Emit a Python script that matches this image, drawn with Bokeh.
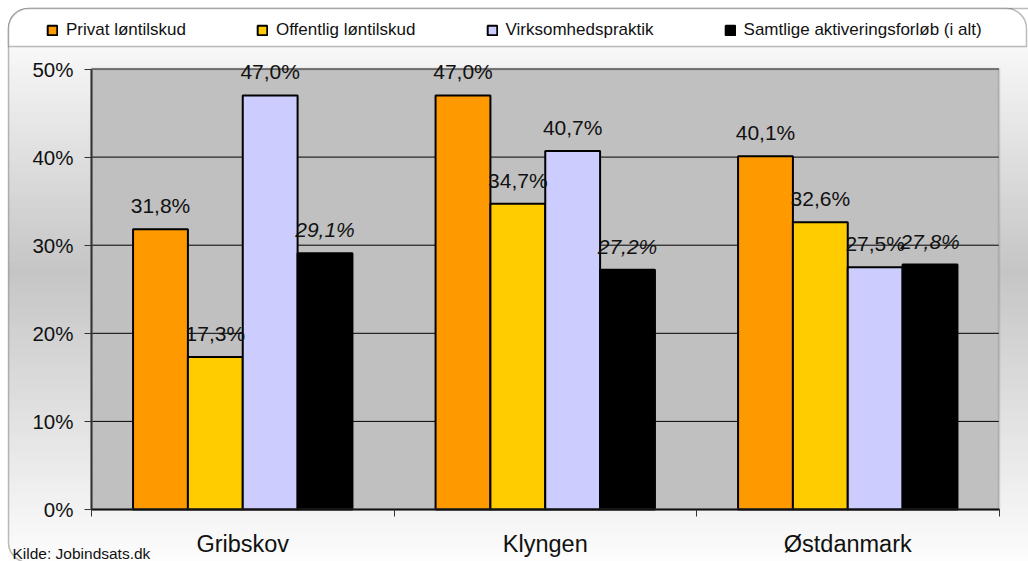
from bokeh.plotting import figure
from bokeh.models import (ColumnDataSource, Range1d, FixedTicker, PrintfTickFormatter,
                          LabelSet, Label, Legend, LegendItem, BoxAnnotation)
from bokeh.core.properties import value
from bokeh.transform import dodge
from bokeh.embed import file_html
from bokeh.resources import INLINE

# ---- data ----
categories = ["Gribskov", "Klyngen", "Østdanmark"]
series = ["Privat løntilskud", "Offentlig løntilskud", "Virksomhedspraktik",
          "Samtlige aktiveringsforløb (i alt)"]
privat = [31.8, 47.0, 40.1]
offentlig = [17.3, 34.7, 32.6]
virksomhed = [47.0, 40.7, 27.5]
samtlige = [29.1, 27.2, 27.8]
y_ticks = [0, 10, 20, 30, 40, 50]
source_note = "Kilde: Jobindsats.dk"

colors = ["#FF9900", "#FFCC00", "#CCCCFF", "#000000"]
keys = ["privat", "offentlig", "virksomhed", "samtlige"]
values = [privat, offentlig, virksomhed, samtlige]

SANS = "Liberation Sans"

def fmt(v):
    return f"{v:.1f}".replace(".", ",") + "%"

n = len(categories)
ymax = y_ticks[-1]

# ---- layout (canvas pixels) ----
W, H = 1028, 561
PX0, PX1 = 91.0, 998.5      # plot area left / right
PY0, PY1 = 509.0, 68.5      # plot area bottom (0) / top (ymax)

def dx(px):
    return (px - PX0) / (PX1 - PX0) * n

def dy(py):
    return (PY0 - py) / (PY0 - PY1) * ymax

p = figure(width=W, height=H, output_backend="svg", toolbar_location=None,
           x_range=Range1d(dx(0), dx(W)), y_range=Range1d(dy(H), dy(0)),
           min_border=0, min_border_left=0, min_border_right=0,
           min_border_top=0, min_border_bottom=0)
p.border_fill_color = "#ffffff"
p.background_fill_color = "#ffffff"
p.outline_line_color = None

# ---- background: chart box with vertical gradient ----
stops = [(46, 248), (270, 197), (566, 254)]
step = 6
yy = 46
while yy < 566:
    y2 = min(yy + step, 566)
    mid = (yy + y2) / 2
    for (a, ca), (b, cb) in zip(stops[:-1], stops[1:]):
        if a <= mid <= b:
            c = int(round(ca + (cb - ca) * (mid - a) / (b - a)))
    col = "#%02x%02x%02x" % (c, c, c)
    p.add_layout(BoxAnnotation(left=dx(8), right=dx(1100), top=dy(yy), bottom=dy(y2 + 0.6),
                               fill_color=col, fill_alpha=1, line_color=None, level="underlay"))
    yy = y2

# outer border of the chart (rounded corners)
p.add_layout(BoxAnnotation(left=dx(8), right=dx(1100), top=dy(8), bottom=dy(562),
                           fill_alpha=0, line_color="#222222", line_width=1.5,
                           border_radius=20, level="underlay"))
# legend band
p.add_layout(BoxAnnotation(left=dx(8), right=dx(1026), top=dy(8), bottom=dy(46),
                           fill_color="#ffffff", fill_alpha=1, line_color="#222222", line_width=1.5,
                           border_radius=dict(top_left=20, top_right=20, bottom_right=0, bottom_left=0),
                           level="underlay"))
# plot area
p.add_layout(BoxAnnotation(left=0, right=n, bottom=0, top=ymax,
                           fill_color="#C0C0C0", fill_alpha=1, line_color=None, level="underlay"))

# grid lines
grid_src = ColumnDataSource(dict(y=y_ticks, x0=[0] * len(y_ticks), x1=[n] * len(y_ticks)))
p.segment(x0="x0", x1="x1", y0="y", y1="y", source=grid_src, line_color="#000000", line_width=1)

# plot-area frame (grey top / right)
p.add_layout(BoxAnnotation(left=0, right=n, bottom=0, top=ymax, fill_alpha=0,
                           line_color="#808080", line_width=2.5, level="glyph"))

# ---- bars ----
data = dict(x=[i + 0.5 for i in range(n)], cat=categories, base=[0] * n)
for k, vals in zip(keys, values):
    data[k] = vals
    data[k + "_lbl"] = [fmt(v) for v in vals]
src = ColumnDataSource(data)

bw = 0.1813
offsets = [-1.5 * bw, -0.5 * bw, 0.5 * bw, 1.5 * bw]
renderers = []
for k, off, col in zip(keys, offsets, colors):
    r = p.vbar(x=dodge("x", off, range=p.x_range), top=k, bottom=0, width=bw, source=src,
               fill_color=col, line_color="#000000", line_width=2)
    renderers.append(r)
    ls = LabelSet(x=dodge("x", off, range=p.x_range), y=k, text=k + "_lbl", source=src,
                  y_offset=16, text_align="center", text_baseline="alphabetic",
                  text_font=value(SANS), text_font_size="21px", text_color="#111111",
                  text_font_style="italic" if k == "samtlige" else "normal")
    p.add_layout(ls)

# ---- axes ----
p.yaxis.fixed_location = 0
p.yaxis.bounds = (0, ymax)
p.yaxis.ticker = FixedTicker(ticks=y_ticks)
p.yaxis.formatter = PrintfTickFormatter(format="%d%%")
p.yaxis.axis_line_color = "#333333"
p.yaxis.axis_line_width = 2
p.yaxis.major_tick_out = 7
p.yaxis.major_tick_in = 0
p.yaxis.major_tick_line_color = "#333333"
p.yaxis.minor_tick_line_color = None
p.yaxis.major_label_text_font = SANS
p.yaxis.major_label_text_font_size = "20.5px"
p.yaxis.major_label_text_color = "#111111"
p.yaxis.major_label_standoff = 11

p.xaxis.fixed_location = 0
p.xaxis.bounds = (0, n)
p.xaxis.ticker = FixedTicker(ticks=[i + 0.5 for i in range(n)], minor_ticks=list(range(n + 1)))
p.xaxis.major_label_overrides = {i + 0.5: c for i, c in enumerate(categories)}
p.xaxis.axis_line_color = "#111111"
p.xaxis.axis_line_width = 2
p.xaxis.major_tick_out = 0
p.xaxis.major_tick_in = 0
p.xaxis.minor_tick_out = 7
p.xaxis.minor_tick_in = 0
p.xaxis.minor_tick_line_color = "#333333"
p.xaxis.major_label_text_font = SANS
p.xaxis.major_label_text_font_size = "23.5px"
p.xaxis.major_label_text_color = "#111111"
p.xaxis.major_label_standoff = 14

p.xgrid.visible = False
p.ygrid.visible = False

# ---- legend ----
legend = Legend(items=[LegendItem(label=s, renderers=[r]) for s, r in zip(series, renderers)],
                location=(46, H - 41), orientation="horizontal",
                padding=0, margin=0, spacing=70, label_standoff=8, label_height=22,
                glyph_width=12, glyph_height=12,
                label_text_font=SANS, label_text_font_size="17px", label_text_color="#111111",
                background_fill_alpha=0, border_line_color=None)
p.add_layout(legend)

note = Label(x=dx(12), y=dy(553), text=source_note, text_baseline="alphabetic",
             text_font=SANS, text_font_size="15.5px", text_color="#111111")
p.add_layout(note)

open("out.html", "w").write(file_html(p, INLINE))
